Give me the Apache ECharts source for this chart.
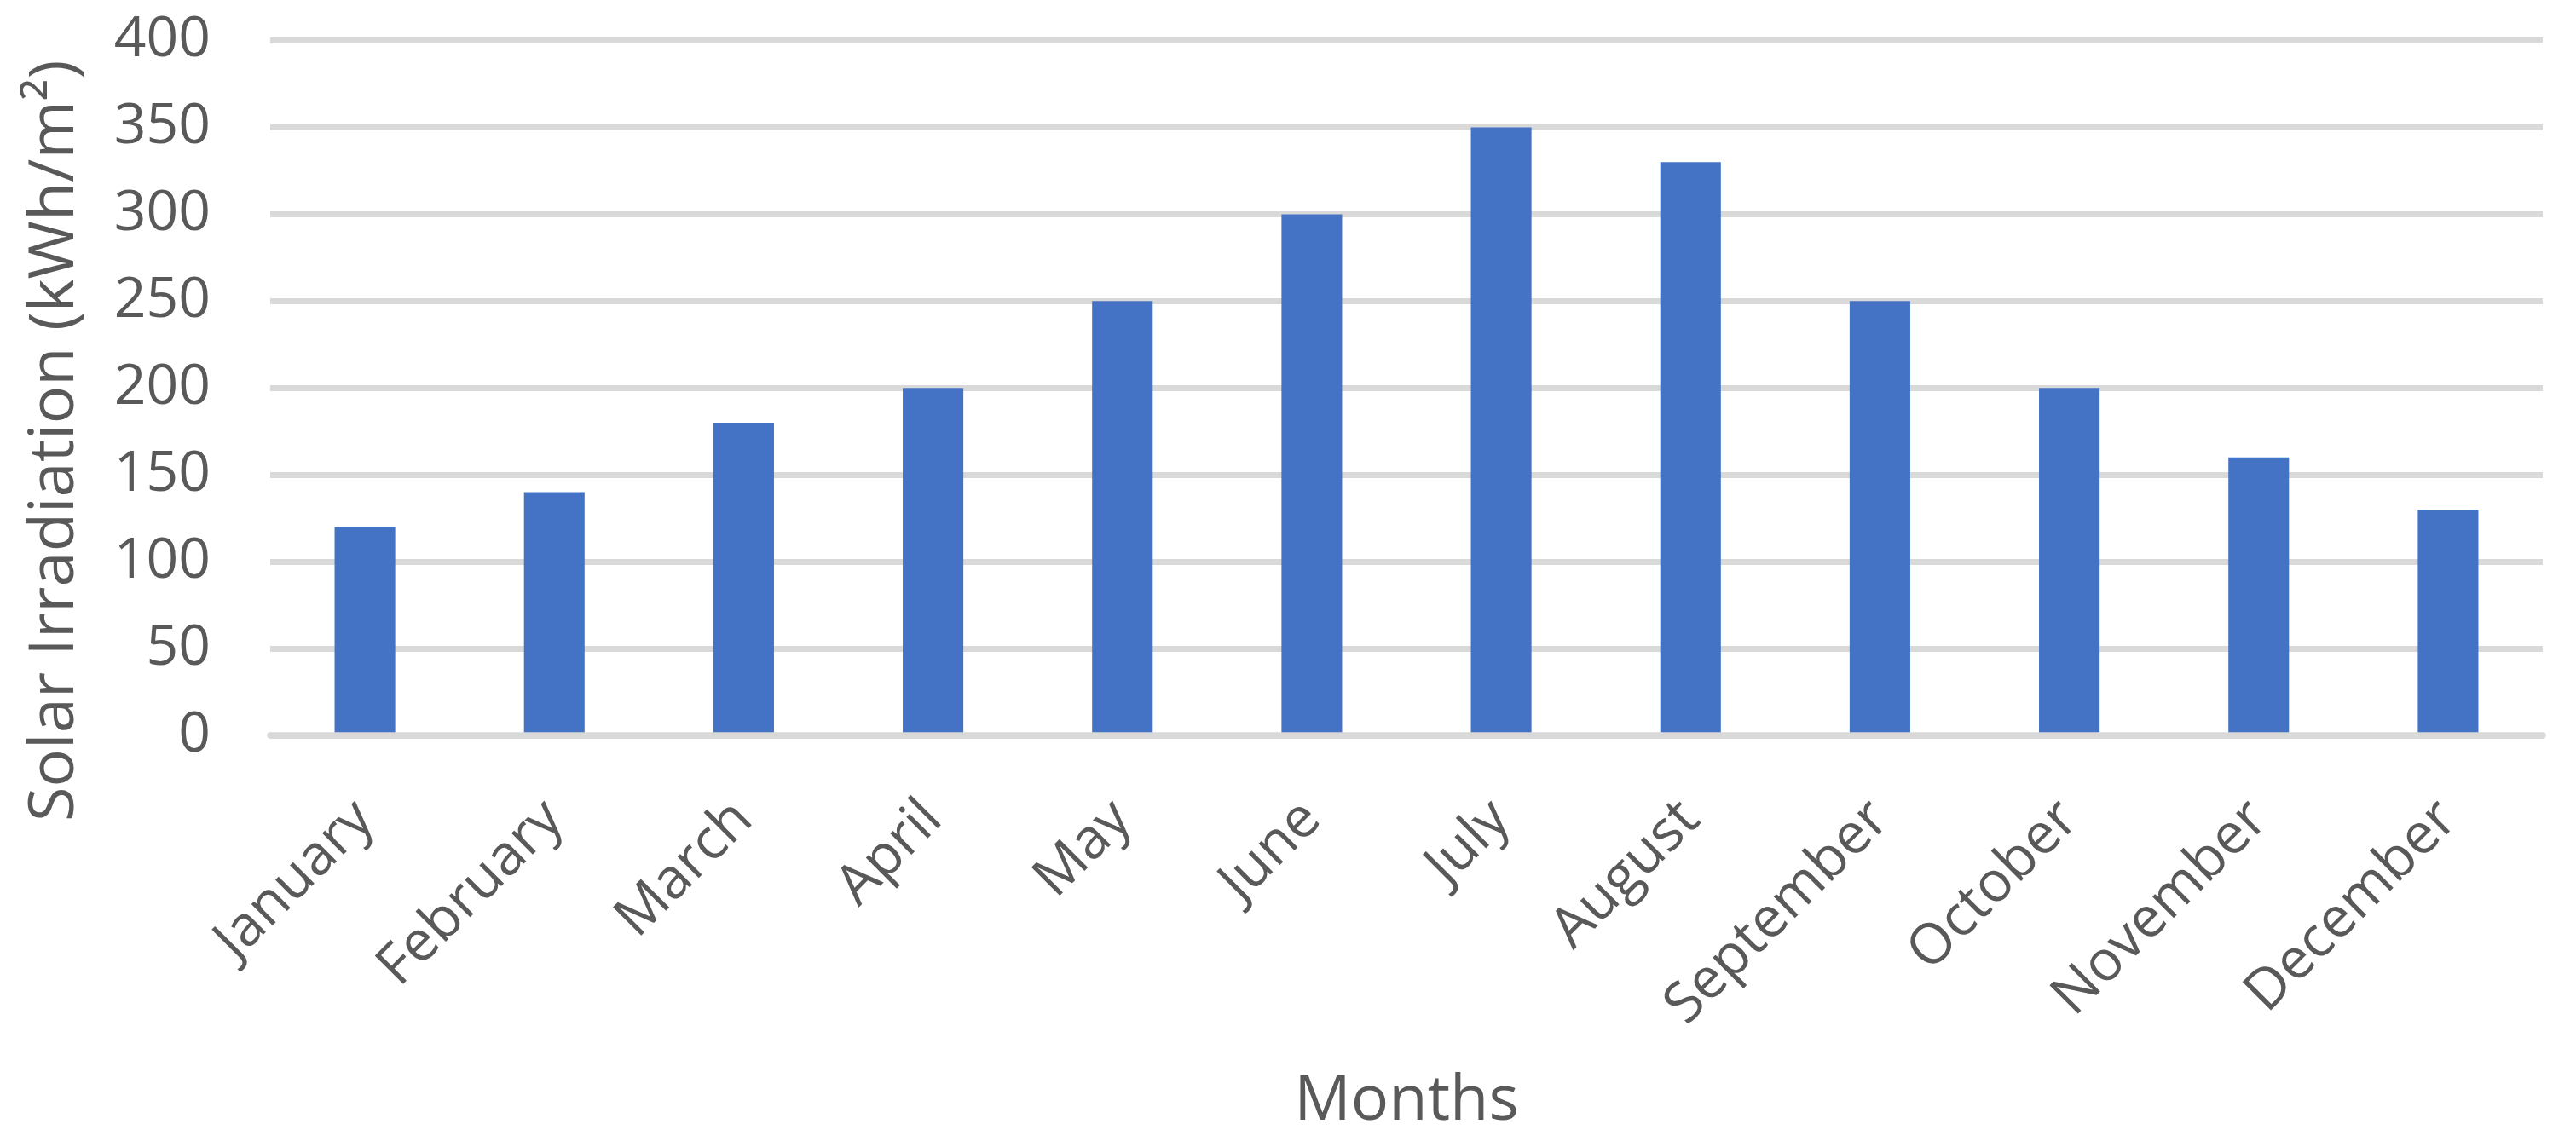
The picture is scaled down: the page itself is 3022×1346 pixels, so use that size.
<!DOCTYPE html>
<html>
<head>
<meta charset="utf-8">
<script src="https://cdn.jsdelivr.net/npm/echarts@6/dist/echarts.min.js"></script>
<style>
  html, body { margin: 0; padding: 0; background: #fff; }
  #chart { width: 3022px; height: 1346px; }
</style>
</head>
<body>
<div id="chart"></div>
<script>
// dados
const months = ['January', 'February', 'March', 'April', 'May', 'June',
  'July', 'August', 'September', 'October', 'November', 'December'];
const irradiation = [120, 140, 180, 200, 250, 300, 350, 330, 250, 200, 160, 130];
const yTicks = [0, 50, 100, 150, 200, 250, 300, 350, 400];

const labelColor = '#595959';
const gridColor = '#d9d9d9';
const fontFamily = '"Open Sans", "Noto Sans", sans-serif';

const chart = echarts.init(document.getElementById('chart'));

const option = {
  backgroundColor: '#ffffff',
  animation: false,
  grid: {
    left: 317,
    right: 39,
    top: 47.5,
    bottom: 483,
    containLabel: false,
    outerBoundsMode: 'none'
  },
  xAxis: {
    type: 'category',
    data: months,
    z: 3,
    name: 'Months',
    nameLocation: 'middle',
    nameGap: 393,
    nameTextStyle: {
      color: labelColor,
      fontSize: 74,
      fontFamily: fontFamily
    },
    axisLine: { show: true, lineStyle: { color: gridColor, width: 7.5 } },
    axisTick: { show: false },
    axisLabel: {
      interval: 0,
      rotate: 45,
      margin: 88,
      color: labelColor,
      fontSize: 66,
      fontFamily: fontFamily
    }
  },
  yAxis: {
    type: 'value',
    min: yTicks[0],
    max: yTicks[yTicks.length - 1],
    interval: 50,
    name: 'Solar Irradiation (kWh/m²)',
    nameLocation: 'middle',
    nameGap: 215,
    nameRotate: 90,
    nameTextStyle: {
      color: labelColor,
      fontSize: 74,
      fontFamily: fontFamily,
      padding: [0, 124, 0, 0]
    },
    axisLine: { show: false },
    axisTick: { show: false },
    axisLabel: {
      margin: 70,
      color: labelColor,
      fontSize: 66,
      fontFamily: fontFamily
    },
    splitLine: { show: true, lineStyle: { color: gridColor, width: 7 } }
  },
  series: [
    {
      name: 'Solar Irradiation',
      type: 'bar',
      data: irradiation,
      barWidth: '32%',
      itemStyle: { color: '#4472c4' }
    }
  ]
};

chart.setOption(option);
</script>
</body>
</html>
